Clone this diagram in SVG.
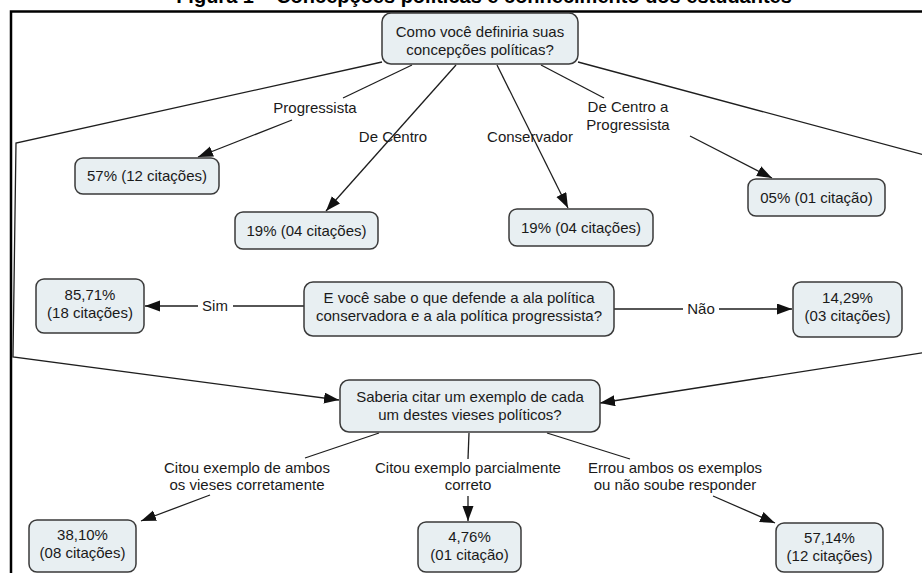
<svg xmlns="http://www.w3.org/2000/svg" width="922" height="573" viewBox="0 0 922 573">
<defs>
<marker id="arr" markerUnits="userSpaceOnUse" markerWidth="16" markerHeight="12" refX="15" refY="5.5" orient="auto">
<path d="M0,0 L15,5.5 L0,11 z" fill="#111"/>
</marker>
<style>
.node rect{fill:#e8eff2;stroke:#3a3a3a;stroke-width:1.5}
text{font-family:"Liberation Sans",Arial,sans-serif;font-size:15px;fill:#1a1a1a;text-anchor:middle}
.link{stroke:#1e1e1e;stroke-width:1.3;fill:none}
.arrow{marker-end:url(#arr)}
.title{font-weight:bold;font-size:20px;fill:#000}
.frame{stroke:#000;stroke-width:2.5;fill:none}
</style>
</defs>
<rect width="922" height="573" fill="#fff"/>
<text class="title" x="484" y="3">Figura 1 – Concepções políticas e conhecimento dos estudantes</text>
<path class="frame" d="M11,573 V11.5 H922"/>

<g id="connectors">
<polyline class="link arrow" points="382,62 16,143 13,357 339,400"/>
<polyline class="link arrow" points="578,62 928,156 928,352 600,403"/>
<line class="link" x1="412" y1="65" x2="343" y2="98"/>
<line class="link arrow" x1="292" y1="120" x2="198" y2="157"/>
<line class="link arrow" x1="456" y1="65" x2="326" y2="211"/>
<line class="link arrow" x1="497" y1="65" x2="568" y2="208"/>
<line class="link" x1="541" y1="65" x2="604" y2="98"/>
<line class="link arrow" x1="690" y1="136" x2="772" y2="178"/>
<line class="link" x1="304" y1="306" x2="233" y2="306"/>
<line class="link arrow" x1="198" y1="306" x2="145" y2="306"/>
<line class="link" x1="614" y1="309" x2="683" y2="309"/>
<line class="link arrow" x1="719" y1="309" x2="792" y2="309"/>
<line class="link" x1="379" y1="433" x2="305" y2="458"/>
<line class="link arrow" x1="210" y1="495" x2="141" y2="521"/>
<line class="link" x1="469" y1="433" x2="468" y2="459"/>
<line class="link arrow" x1="468" y1="496" x2="468" y2="521"/>
<line class="link" x1="547" y1="433" x2="630" y2="459"/>
<line class="link arrow" x1="713" y1="496" x2="775" y2="523"/>
</g>

<g id="labels">
<text x="315" y="113">Progressista</text>
<text x="393" y="142">De Centro</text>
<text x="530" y="142">Conservador</text>
<text x="628" y="112">De Centro a</text>
<text x="628" y="130">Progressista</text>
<text x="215" y="311">Sim</text>
<text x="701" y="314">Não</text>
<text x="247" y="473">Citou exemplo de ambos</text>
<text x="247" y="490">os vieses corretamente</text>
<text x="468" y="473">Citou exemplo parcialmente</text>
<text x="468" y="490">correto</text>
<text x="675" y="473">Errou ambos os exemplos</text>
<text x="675" y="490">ou não soube responder</text>
</g>

<g id="n1" class="node"><rect x="382" y="13" width="196" height="51" rx="9"/>
<text x="480" y="37">Como você definiria suas</text><text x="480" y="55">concepções políticas?</text></g>
<g id="n2" class="node"><rect x="75" y="158" width="144" height="36" rx="8"/>
<text x="147" y="181">57% (12 citações)</text></g>
<g id="n3" class="node"><rect x="235" y="212" width="143" height="37" rx="8"/>
<text x="306.5" y="236">19% (04 citações)</text></g>
<g id="n4" class="node"><rect x="509" y="209" width="144" height="37" rx="8"/>
<text x="581" y="233">19% (04 citações)</text></g>
<g id="n5" class="node"><rect x="748" y="179" width="137" height="37" rx="8"/>
<text x="816.5" y="203">05% (01 citação)</text></g>
<g id="n6" class="node"><rect x="36" y="279" width="108" height="54" rx="8"/>
<text x="90" y="300">85,71%</text><text x="90" y="318">(18 citações)</text></g>
<g id="n7" class="node"><rect x="304" y="282" width="310" height="54" rx="9"/>
<text x="459" y="303">E você sabe o que defende a ala política</text><text x="459" y="321">conservadora e a ala política progressista?</text></g>
<g id="n8" class="node"><rect x="793" y="282" width="109" height="55" rx="8"/>
<text x="847.5" y="303">14,29%</text><text x="847.5" y="321">(03 citações)</text></g>
<g id="n9" class="node"><rect x="340" y="380" width="260" height="52" rx="9"/>
<text x="470" y="402">Saberia citar um exemplo de cada</text><text x="470" y="420">um destes vieses políticos?</text></g>
<g id="n10" class="node"><rect x="29" y="520" width="107" height="52" rx="8"/>
<text x="82.5" y="540">38,10%</text><text x="82.5" y="558">(08 citações)</text></g>
<g id="n11" class="node"><rect x="418" y="522" width="103" height="50" rx="8"/>
<text x="469.5" y="542">4,76%</text><text x="469.5" y="560">(01 citação)</text></g>
<g id="n12" class="node"><rect x="776" y="523" width="107" height="49" rx="8"/>
<text x="829.5" y="543">57,14%</text><text x="829.5" y="561">(12 citações)</text></g>
</svg>
